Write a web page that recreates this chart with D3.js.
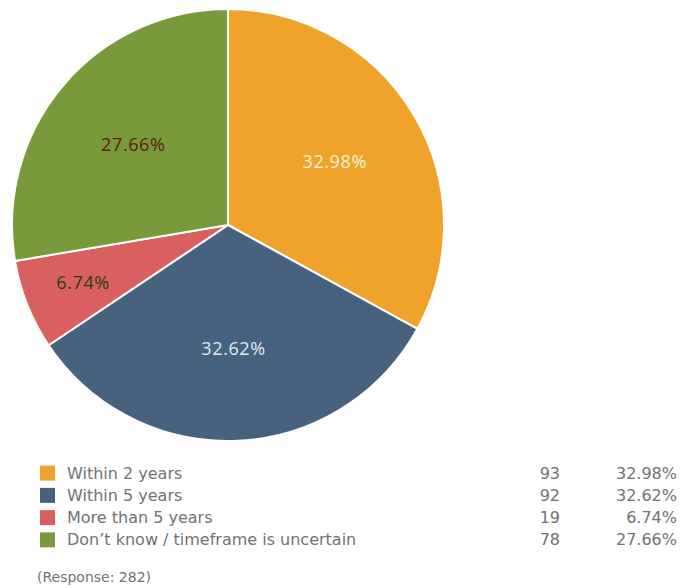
<!DOCTYPE html>
<html>
<head>
<meta charset="utf-8">
<script src="https://cdn.jsdelivr.net/npm/d3@7"></script>
<style>
  body { margin: 0; background: #fff; }
  svg { display: block; }
</style>
</head>
<body>
<svg id="chart" width="681" height="588"></svg>
<script>
// survey answers, in the order the slices run clockwise from 12 o'clock
const categories = ['Within 2 years', 'Within 5 years', 'More than 5 years', 'Don\u2019t know / timeframe is uncertain']
const counts = [93, 92, 19, 78]
const percents = [32.98, 32.62, 6.74, 27.66]
const colors = ['#f0a32b', '#46627f', '#d9605f', '#789a3a']
const labelColors = ['#fdf1d6', '#e3e9f0', '#2d3b14', '#5c1a1a']
const responseTotal = 282

const data = categories.map((c, i) => ({
  key: c, count: counts[i], pct: percents[i], color: colors[i], labelColor: labelColors[i]
}))

const svg = d3.select('#chart')

const cx = 228, cy = 225, radius = 216

const pie = d3.pie().sort(null).value(d => d.pct)
const arc = d3.arc().innerRadius(0).outerRadius(radius)

const g = svg.append('g').attr('transform', `translate(${cx},${cy})`)

const slices = g.selectAll('g.slice').data(pie(data))
  .enter().append('g')
    .attr('class', 'slice')

slices.append('path')
  .attr('d', arc)
  .style('fill', d => d.data.color)
  .style('stroke', '#fff')
  .style('stroke-width', 2)
  .style('stroke-linejoin', 'round')

// small slices get their label pushed further out
let labelPos = d => {
  let r = d.data.pct < 10 ? 156 : 124
  return d3.arc().innerRadius(r).outerRadius(r).centroid(d)
}

slices.append('text')
  .attr('transform', d => `translate(${ labelPos(d) })`)
  .attr('text-anchor', 'middle')
  .attr('dy', '0.35em')
  .style('font-family', '"Open Sans", sans-serif')
  .style('font-size', '18px')
  .style('letter-spacing', '0.6px')
  .style('fill', d => d.data.labelColor)
  .text(d => d.data.pct.toFixed(2) + '%')

// legend table
const rowY = d3.scaleBand().domain(categories).range([462, 551]).paddingInner(0)

const legend = svg.append('g').attr('class', 'legend')
  .style('font-family', '"DejaVu Sans", sans-serif')
  .style('font-size', '16px')
  .style('fill', '#727272')

const rows = legend.selectAll('g.row').data(data)
  .enter().append('g')
    .attr('class', 'row')
    .attr('transform', d => `translate(0,${ rowY(d.key) + rowY.bandwidth() / 2 })`)

rows.append('rect')
  .attr('x', 40)
  .attr('y', -7.5)
  .attr('width', 15)
  .attr('height', 15)
  .style('fill', d => d.color)

rows.append('text')
  .attr('x', 67)
  .attr('dy', '0.35em')
  .text(d => d.key)

rows.append('text')
  .attr('x', 560)
  .attr('dy', '0.35em')
  .attr('text-anchor', 'end')
  .text(d => d.count)

rows.append('text')
  .attr('x', 677)
  .attr('dy', '0.35em')
  .attr('text-anchor', 'end')
  .text(d => d.pct.toFixed(2) + '%')

svg.append('text')
  .attr('x', 37)
  .attr('y', 577)
  .attr('dy', '0.35em')
  .style('font-family', '"DejaVu Sans", sans-serif')
  .style('font-size', '14px')
  .style('fill', '#727272')
  .text(`(Response: ${ responseTotal })`)
</script>
</body>
</html>
